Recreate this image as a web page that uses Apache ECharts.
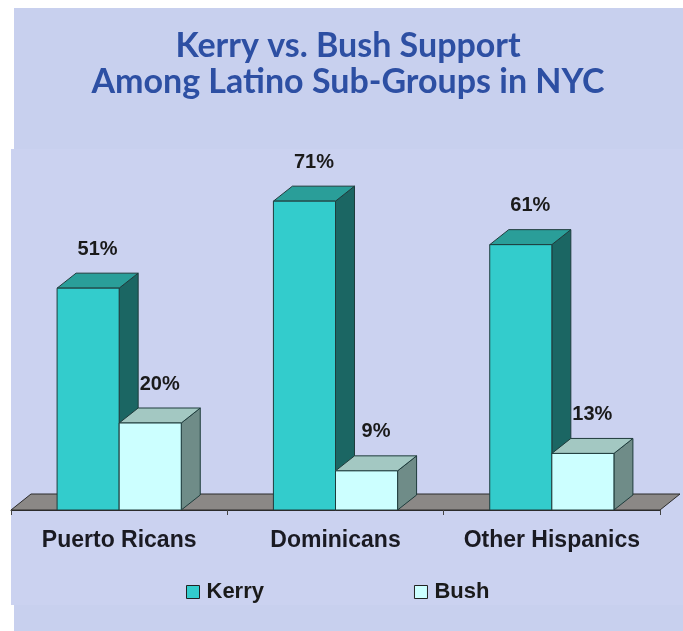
<!DOCTYPE html>
<html><head><meta charset="utf-8">
<script src="https://cdn.jsdelivr.net/npm/echarts@6/dist/echarts.min.js"></script>
<style>html,body{margin:0;padding:0;background:#fff}#c{width:683px;height:631px}</style>
</head><body><div id="c"></div>
<script>
const categories = ['Puerto Ricans', 'Dominicans', 'Other Hispanics'];
const kerry = [51, 71, 61];
const bush = [20, 9, 13];
const seriesNames = ['Kerry', 'Bush'];

const DX = 19, DY = -15;
const STROKE = '#1f3c3c';
const LABEL_FONT = 'bold 20px "Liberation Sans", Arial, sans-serif';

function makeBar(side, colors) {
  return function (params, api) {
    const idx = api.value(0), v = api.value(1);
    const base = api.coord([idx, 0]);
    const top = api.coord([idx, v]);
    const band = api.size([1, 0])[0];
    const w = band * 0.287;
    const x0 = side < 0 ? base[0] - w : base[0];
    const x1 = x0 + w;
    const yb = base[1], yt = top[1];
    return {
      type: 'group',
      children: [
        { type: 'polygon', shape: { points: [[x1, yb], [x1 + DX, yb + DY], [x1 + DX, yt + DY], [x1, yt]] },
          style: { fill: colors.side, stroke: STROKE, lineWidth: 1 } },
        { type: 'polygon', shape: { points: [[x0, yt], [x0 + DX, yt + DY], [x1 + DX, yt + DY], [x1, yt]] },
          style: { fill: colors.top, stroke: STROKE, lineWidth: 1 } },
        { type: 'rect', shape: { x: x0, y: yt, width: w, height: yb - yt },
          style: { fill: colors.front, stroke: STROKE, lineWidth: 1 } },
        { type: 'text', x: (x0 + x1) / 2 + DX / 2, y: yt + DY - 24,
          style: { text: v + '%', font: LABEL_FONT, fill: '#1a1a1a', align: 'center', verticalAlign: 'middle' } }
      ]
    };
  };
}

function floorItem(params, api) {
  const cs = params.coordSys;
  const y = api.coord([0, 0])[1];
  const xl = cs.x, xr = cs.x + cs.width;
  return {
    type: 'polygon',
    shape: { points: [[xl, y], [xl + DX + 1, y + DY - 1], [xr + DX + 1, y + DY - 1], [xr, y]] },
    style: { fill: '#8b8886', stroke: '#2b2b2b', lineWidth: 1 }
  };
}

const chart = echarts.init(document.getElementById('c'), null, { renderer: 'canvas' });
chart.setOption({
  backgroundColor: '#ffffff',
  animation: false,
  graphic: [
    { type: 'rect', z: -10, shape: { x: 14, y: 8, width: 669, height: 141 }, style: { fill: '#c8d0ee' } },
    { type: 'rect', z: -10, shape: { x: 11, y: 149, width: 672, height: 456 }, style: { fill: '#cbd2f0' } },
    { type: 'rect', z: -10, shape: { x: 14, y: 605, width: 669, height: 26 }, style: { fill: '#c8d0ee' } }
  ],
  title: {
    text: 'Kerry vs. Bush Support\nAmong Latino Sub-Groups in NYC',
    left: 348, top: 28, textAlign: 'center', padding: 0,
    textStyle: { fontFamily: 'Lato', fontWeight: 'bold', fontSize: 34, lineHeight: 36, color: '#2d4fa3' }
  },
  legend: {
    data: [
      { name: 'Kerry', itemStyle: { color: '#33cccc', borderColor: '#222', borderWidth: 1 } },
      { name: 'Bush', itemStyle: { color: '#ccffff', borderColor: '#222', borderWidth: 1 } }
    ],
    left: 186, top: 581, padding: 0, icon: 'rect', itemWidth: 13, itemHeight: 13, itemGap: 150,
    textStyle: { fontFamily: '"Liberation Sans", Arial, sans-serif', fontWeight: 'bold', fontSize: 22, color: '#1a1a1a', padding: [0, 0, 0, 2] }
  },
  grid: { left: 11, right: 23, top: 162, bottom: 121 },
  xAxis: {
    type: 'category', data: categories, boundaryGap: true,
    axisLine: { show: true, lineStyle: { color: '#2b2b2b', width: 1 } },
    axisTick: { show: true, length: 5, interval: 0, lineStyle: { color: '#444' } },
    axisLabel: { interval: 0, margin: 19, fontFamily: '"Liberation Sans", Arial, sans-serif', fontWeight: 'bold', fontSize: 23, color: '#1a1a22' },
    z: 5
  },
  yAxis: { type: 'value', min: 0, max: 80, show: false, splitLine: { show: false } },
  series: [
    { type: 'custom', name: 'floor', z: 1, clip: false, data: [[0, 0]], renderItem: floorItem, silent: true },
    { type: 'custom', name: seriesNames[0], z: 2, clip: false,
      itemStyle: { color: '#33cccc' },
      data: kerry.map((v, i) => [i, v]),
      renderItem: makeBar(-1, { front: '#33cccc', top: '#2a9e99', side: '#1b6663' }) },
    { type: 'custom', name: seriesNames[1], z: 3, clip: false,
      itemStyle: { color: '#ccffff' },
      data: bush.map((v, i) => [i, v]),
      renderItem: makeBar(1, { front: '#ccffff', top: '#a3c8c2', side: '#6f8c88' }) }
  ]
});
</script></body></html>
